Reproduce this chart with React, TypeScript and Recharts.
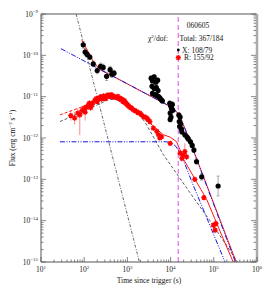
import React from 'react'
import { ComposedChart, Line, Scatter, XAxis, YAxis, ErrorBar, ReferenceLine } from 'recharts'

const SERIF = '"Liberation Serif", "DejaVu Serif", serif'

// axis decades
const xDecades = [1, 2, 3, 4, 5, 6]
const yDecades = [-15, -14, -13, -12, -11, -10, -9]

// X-ray (XRT) data: time (s), flux (erg cm^-2 s^-1), error half-width (dex)
const xrtT = [95, 105, 117, 135, 162, 200, 240, 275, 330, 398, 436, 490,
  3548, 3802, 4169, 4571, 5012, 3715, 4169, 4677, 5129, 3802, 4266, 4786, 5248, 5623, 6026, 6457,
  9550, 10000, 10471, 10965, 11220, 9772, 10233, 9772,
  15488, 16596, 15849, 16982, 16218, 17783, 18197,
  21380, 23988, 25704, 28840, 31623, 34674, 39811, 52481, 125893]
const xrtF = [1.8e-10, 1.2e-10, 1.05e-10, 9.1e-11, 6.2e-11, 4.3e-11, 5.4e-11, 5.1e-11, 3.1e-11, 4.5e-11, 3.5e-11, 3.7e-11,
  2.8e-11, 2.4e-11, 3.0e-11, 2.24e-11, 2.5e-11, 1.78e-11, 1.58e-11, 1.66e-11, 1.41e-11, 1.2e-11, 1.12e-11, 1.07e-11, 1.0e-11, 9.3e-12, 8.5e-12, 7.9e-12,
  6.9e-12, 6.0e-12, 5.2e-12, 6.5e-12, 4.7e-12, 4.0e-12, 3.2e-12, 2.8e-12,
  3.6e-12, 3.2e-12, 2.5e-12, 2.2e-12, 1.9e-12, 1.66e-12, 1.41e-12,
  1.2e-12, 1.05e-12, 9.5e-13, 8.1e-13, 6.6e-13, 5.1e-13, 2.7e-13, 1.15e-13, 6.9e-14]
const xrtErr = [0.08, 0.07, 0.07, 0.06, 0.07, 0.08, 0.08, 0.08, 0.1, 0.08, 0.08, 0.07,
  0.05, 0.05, 0.05, 0.05, 0.05, 0.05, 0.05, 0.05, 0.05, 0.05, 0.05, 0.05, 0.05, 0.05, 0.05, 0.05,
  0.06, 0.06, 0.06, 0.06, 0.06, 0.06, 0.06, 0.06,
  0.06, 0.06, 0.06, 0.06, 0.06, 0.06, 0.06,
  0.06, 0.06, 0.06, 0.06, 0.06, 0.06, 0.07, 0.08, 0.24]

// optical R data: time (s), flux, lower / upper error (dex)
const rT = [49, 60, 71, 79, 89, 100, 105, 112, 126, 132, 141, 150, 158, 178, 190, 200, 210, 224, 240, 251, 282, 300, 316,
  340, 355, 398, 420, 447, 480, 501, 562, 600, 631, 680, 708, 760, 794, 850, 891, 950, 1000, 1060, 1122, 1200, 1259,
  1380, 1500, 1622, 1750, 1950, 2100, 2344, 2600, 2818, 3000, 3311, 3981, 4786, 5248, 5623, 6166, 9772,
  16596, 18197, 19498, 21380, 23442, 36308, 58884, 97724, 107152, 112202]
const rF = [3.47e-12, 3.02e-12, 3.98e-12, 3.63e-12, 4.57e-12, 5.0e-12, 4.2e-12, 5.6e-12, 6.3e-12, 7.0e-12, 5.4e-12, 6.5e-12, 7.1e-12, 8.3e-12, 9.0e-12, 7.6e-12, 8.8e-12, 9.3e-12, 1.0e-11, 8.7e-12, 1.05e-11, 9.0e-12, 9.5e-12,
  1.05e-11, 1.1e-11, 1.0e-11, 1.12e-11, 1.07e-11, 9.8e-12, 1.0e-11, 9.5e-12, 1.02e-11, 8.9e-12, 9.2e-12, 8.3e-12, 8.6e-12, 7.6e-12, 8.0e-12, 7.1e-12, 6.8e-12, 6.3e-12, 6.0e-12, 5.6e-12, 5.4e-12, 5.2e-12,
  4.8e-12, 4.6e-12, 4.4e-12, 4.1e-12, 4.0e-12, 3.7e-12, 3.3e-12, 3.2e-12, 3.0e-12, 2.8e-12, 2.5e-12, 1.74e-12, 1.45e-12, 1.2e-12, 1.0e-12, 1.07e-12, 7.4e-13,
  4.3e-13, 3.2e-13, 3.9e-13, 4.7e-13, 3.5e-13, 1.0e-13, 3.6e-14, 7.8e-15, 5.9e-15, 8.5e-15]
const rErrLo = [0.12, 0.15, 0.12, 0.49, 0.12, 0.1, 0.2, 0.08, 0.08, 0.06, 0.08, 0.06, 0.06, 0.05, 0.05, 0.05, 0.05, 0.04, 0.04, 0.04, 0.04, 0.04, 0.04,
  0.04, 0.04, 0.04, 0.04, 0.04, 0.04, 0.04, 0.04, 0.04, 0.04, 0.04, 0.04, 0.04, 0.04, 0.04, 0.04, 0.04, 0.04, 0.04, 0.04, 0.05, 0.05,
  0.05, 0.05, 0.05, 0.05, 0.05, 0.05, 0.05, 0.05, 0.05, 0.05, 0.06, 0.06, 0.06, 0.06, 0.06, 0.06, 0.06,
  0.08, 0.08, 0.1, 0.15, 0.08, 0.06, 0.06, 0.08, 0.08, 0.08]
const rErrHi = [0.12, 0.15, 0.12, 0.12, 0.12, 0.1, 0.15, 0.08, 0.08, 0.06, 0.08, 0.06, 0.06, 0.05, 0.05, 0.05, 0.05, 0.04, 0.04, 0.04, 0.04, 0.04, 0.04,
  0.04, 0.04, 0.04, 0.04, 0.04, 0.04, 0.04, 0.04, 0.04, 0.04, 0.04, 0.04, 0.04, 0.04, 0.04, 0.04, 0.04, 0.04, 0.04, 0.04, 0.05, 0.05,
  0.05, 0.05, 0.05, 0.05, 0.05, 0.05, 0.05, 0.05, 0.05, 0.05, 0.06, 0.06, 0.06, 0.06, 0.06, 0.06, 0.06,
  0.08, 0.08, 0.1, 0.2, 0.08, 0.06, 0.06, 0.08, 0.08, 0.08]

// model curves
const steepT = [65, 1950]
const steepF = [1e-9, 8.9e-16]

const xTotT = [87, 123, 162, 234, 331, 562, 3981, 7943, 11220, 14125, 17783, 25119, 338844]
const xTotF = [2.4e-10, 1.23e-10, 7.1e-11, 4.5e-11, 3.7e-11, 2.8e-11, 9.5e-12, 6.5e-12, 5.1e-12, 4.2e-12, 2.75e-12, 1.12e-12, 9.3e-16]

const xAgT = [29, 562, 3981, 7943, 11220, 14125, 17783, 25119, 316228]
const xAgF = [1.45e-10, 2.8e-11, 9.5e-12, 6.5e-12, 5.1e-12, 4.2e-12, 2.75e-12, 1.12e-12, 1e-15]

const optPeakT = [27.5, 79, 200, 355, 562, 891, 1413, 2512, 6761, 25119, 81283, 354813]
const optPeakF = [2.5e-12, 4.0e-12, 6.3e-12, 8.3e-12, 8.9e-12, 7.6e-12, 5.0e-12, 2.5e-12, 4.0e-13, 5.6e-14, 1.0e-14, 1.0e-15]

const optEarlyT = [27.5, 79]
const optEarlyF = [3.63e-12, 5.4e-12]
const optTotT = [79, 200, 398, 562, 891, 1148, 1995, 3311, 6761, 9772, 13804, 16596, 19498, 39811, 69183, 117490, 199526, 281838]
const optTotF = [5.4e-12, 7.9e-12, 1.0e-11, 1.05e-11, 8.9e-12, 6.3e-12, 3.8e-12, 2.3e-12, 1.2e-12, 1.05e-12, 8.1e-13, 5.1e-13, 3.2e-13, 8.7e-14, 3.2e-14, 8.5e-15, 2.3e-15, 1.0e-15]

const optAgT = [27.5, 7943, 10471, 13183, 16596, 22387, 31623, 181970]
const optAgF = [8.1e-13, 8.1e-13, 7.6e-13, 6.3e-13, 4.4e-13, 2.1e-13, 8.3e-14, 1.0e-15]

const toLine = (t: number[], f: number[]) => t.map((v, i) => ({ t: v, f: f[i] }))

const xrtData = xrtT.map((t, i) => {
  const f = xrtF[i]
  const e = xrtErr[i]
  return { t, f, ey: [f - f / 10 ** e, f * 10 ** e - f] }
})
const rData = rT.map((t, i) => {
  const f = rF[i]
  return { t, f, ey: [f - f / 10 ** rErrLo[i], f * 10 ** rErrHi[i] - f] }
})

const ticksFor = (decades: number[]) => {
  const out: number[] = []
  decades.forEach((d, k) => {
    for (let m = 1; m <= 9; m++) {
      if (k === decades.length - 1 && m > 1) break
      out.push(m * 10 ** d)
    }
  })
  return out
}
const xTicks = ticksFor(xDecades)
const yTicks = ticksFor(yDecades)

const decade = (v: number) => {
  const l = Math.log10(v)
  const e = Math.round(l)
  return { e, major: Math.abs(l - e) < 1e-6 }
}
const expText = (e: number) => (e < 0 ? '\u2212' + Math.abs(e) : String(e))

const AX = '#555'

const LeftTick = ({ x, y, payload }: any) => {
  const { e, major } = decade(payload.value)
  return (
    <g>
      <line x1={x} x2={x + (major ? 5 : 2.5)} y1={y} y2={y} stroke={AX} strokeWidth={0.7} />
      {major && (
        <text x={x - 3} y={y + 2.5} textAnchor="end" fontSize={7.5} fontFamily={SERIF} fill="#222">
          10<tspan dy={-3.3} fontSize={5}>{expText(e)}</tspan>
        </text>
      )}
    </g>
  )
}
const RightTick = ({ x, y, payload }: any) => {
  const { major } = decade(payload.value)
  return <line x1={x - 1} x2={x - 1 - (major ? 5 : 2.5)} y1={y} y2={y} stroke={AX} strokeWidth={0.7} />
}
const BottomTick = ({ x, y, payload }: any) => {
  const { e, major } = decade(payload.value)
  return (
    <g>
      <line x1={x} x2={x} y1={y} y2={y - (major ? 5 : 2.5)} stroke={AX} strokeWidth={0.7} />
      {major && (
        <text x={x} y={y + 10} textAnchor="middle" fontSize={7.5} fontFamily={SERIF} fill="#222">
          10<tspan dy={-3.3} fontSize={5}>{expText(e)}</tspan>
        </text>
      )}
    </g>
  )
}
const TopTick = ({ x, y, payload }: any) => {
  const { major } = decade(payload.value)
  return <line x1={x} x2={x} y1={y} y2={y + (major ? 5 : 2.5)} stroke={AX} strokeWidth={0.7} />
}

const Dot = (p: any) => <circle cx={p.cx} cy={p.cy} r={2.6} fill="#000" />
const Star = (p: any) => {
  const { cx, cy } = p
  return (
    <path
      d={`M${cx - 2.6},${cy}h5.2M${cx},${cy - 2.6}v5.2M${cx - 1.9},${cy - 1.9}l3.8,3.8M${cx - 1.9},${cy + 1.9}l3.8,-3.8`}
      stroke="#ff0000"
      strokeWidth={1.3}
    />
  )
}

const BLUE = '#1515e6'
const DASHDOT = '5 1.5 1 1.5 1 1.5'

export default function App() {
  return (
    <div style={{ position: 'absolute', left: 0, top: 0, width: 270, height: 291, background: '#fff' }}>
      <ComposedChart width={270} height={291} margin={{ top: 0, right: 0, bottom: 0, left: 0 }}>
        <XAxis
          dataKey="t" type="number" scale="log" domain={[10, 1e6]} allowDataOverflow
          ticks={xTicks} interval={0} tick={<BottomTick />} tickLine={false} tickSize={0} tickMargin={0}
          height={29} axisLine={{ stroke: AX }}
        />
        <XAxis
          xAxisId="top" orientation="top" type="number" scale="log" domain={[10, 1e6]} allowDataOverflow
          ticks={xTicks} interval={0} tick={<TopTick />} tickLine={false} tickSize={0} tickMargin={0}
          height={14} axisLine={{ stroke: AX }}
        />
        <YAxis
          dataKey="f" type="number" scale="log" domain={[1e-15, 1e-9]} allowDataOverflow
          ticks={yTicks} interval={0} tick={<LeftTick />} tickLine={false} tickSize={0} tickMargin={0}
          width={41} axisLine={{ stroke: AX }}
        />
        <YAxis
          yAxisId="right" orientation="right" type="number" scale="log" domain={[1e-15, 1e-9]} allowDataOverflow
          ticks={yTicks} interval={0} tick={<RightTick />} tickLine={false} tickSize={0} tickMargin={0}
          width={13} axisLine={{ stroke: '#aaa', strokeWidth: 2.5 }}
        />
        <Scatter data={rData} shape={Star} isAnimationActive={false}>
          <ErrorBar dataKey="ey" direction="y" width={0} stroke="#ff5555" strokeWidth={0.7} />
        </Scatter>
        <Scatter data={xrtData} shape={Dot} isAnimationActive={false}>
          <ErrorBar dataKey="ey" direction="y" width={1.5} stroke="#888" strokeWidth={0.7} />
        </Scatter>
        <Line data={toLine(steepT, steepF)} dataKey="f" stroke="#444" strokeWidth={0.8} strokeDasharray="3 1.5 1 1.5" dot={false} isAnimationActive={false} />
        <Line data={toLine(optPeakT, optPeakF)} dataKey="f" stroke="#333" strokeWidth={0.8} strokeDasharray="3 2" dot={false} isAnimationActive={false} />
        <Line data={toLine(optEarlyT, optEarlyF)} dataKey="f" stroke="#ff0000" strokeWidth={0.9} strokeDasharray="3 2" dot={false} isAnimationActive={false} />
        <Line data={toLine(optTotT, optTotF)} dataKey="f" stroke="#ff0000" strokeWidth={0.9} dot={false} isAnimationActive={false} />
        <Line data={toLine(xTotT, xTotF)} dataKey="f" stroke="#ff0000" strokeWidth={0.9} dot={false} isAnimationActive={false} />
        <Line data={toLine(xAgT, xAgF)} dataKey="f" stroke={BLUE} strokeWidth={1} strokeDasharray={DASHDOT} dot={false} isAnimationActive={false} />
        <Line data={toLine(optAgT, optAgF)} dataKey="f" stroke={BLUE} strokeWidth={1} strokeDasharray={DASHDOT} dot={false} isAnimationActive={false} />
        <ReferenceLine x={15000} stroke="#e24ee2" strokeWidth={1} strokeDasharray="5 3" />
      </ComposedChart>
      <svg width={270} height={291} style={{ position: 'absolute', left: 0, top: 0, pointerEvents: 'none' }}>
        <g fontFamily={SERIF} fontSize={7.5} fill="#111">
          <text x={198} y={27.5} textAnchor="middle">060605</text>
          <text x={148} y={40.5}>
            χ<tspan dy={-3} fontSize={5}>2</tspan><tspan dy={3}>/dof:</tspan>
          </text>
          <text x={179.5} y={40.5}>Total: 367/184</text>
          <circle cx={178.3} cy={50} r={1.4} fill="#000" />
          <text x={182} y={52.5}>X: 108/79</text>
          <Star cx={178.3} cy={57.7} />
          <text x={184} y={60.3}>R: 155/92</text>
          <text x={149} y={282.5} textAnchor="middle">Time since trigger (s)</text>
          <text x={15} y={138} textAnchor="middle" transform="rotate(-90 15 138)">
            Flux (erg cm<tspan dy={-3} fontSize={5}>−2</tspan><tspan dy={3}> s</tspan><tspan dy={-3} fontSize={5}>−1</tspan><tspan dy={3}>)</tspan>
          </text>
        </g>
      </svg>
    </div>
  )
}
